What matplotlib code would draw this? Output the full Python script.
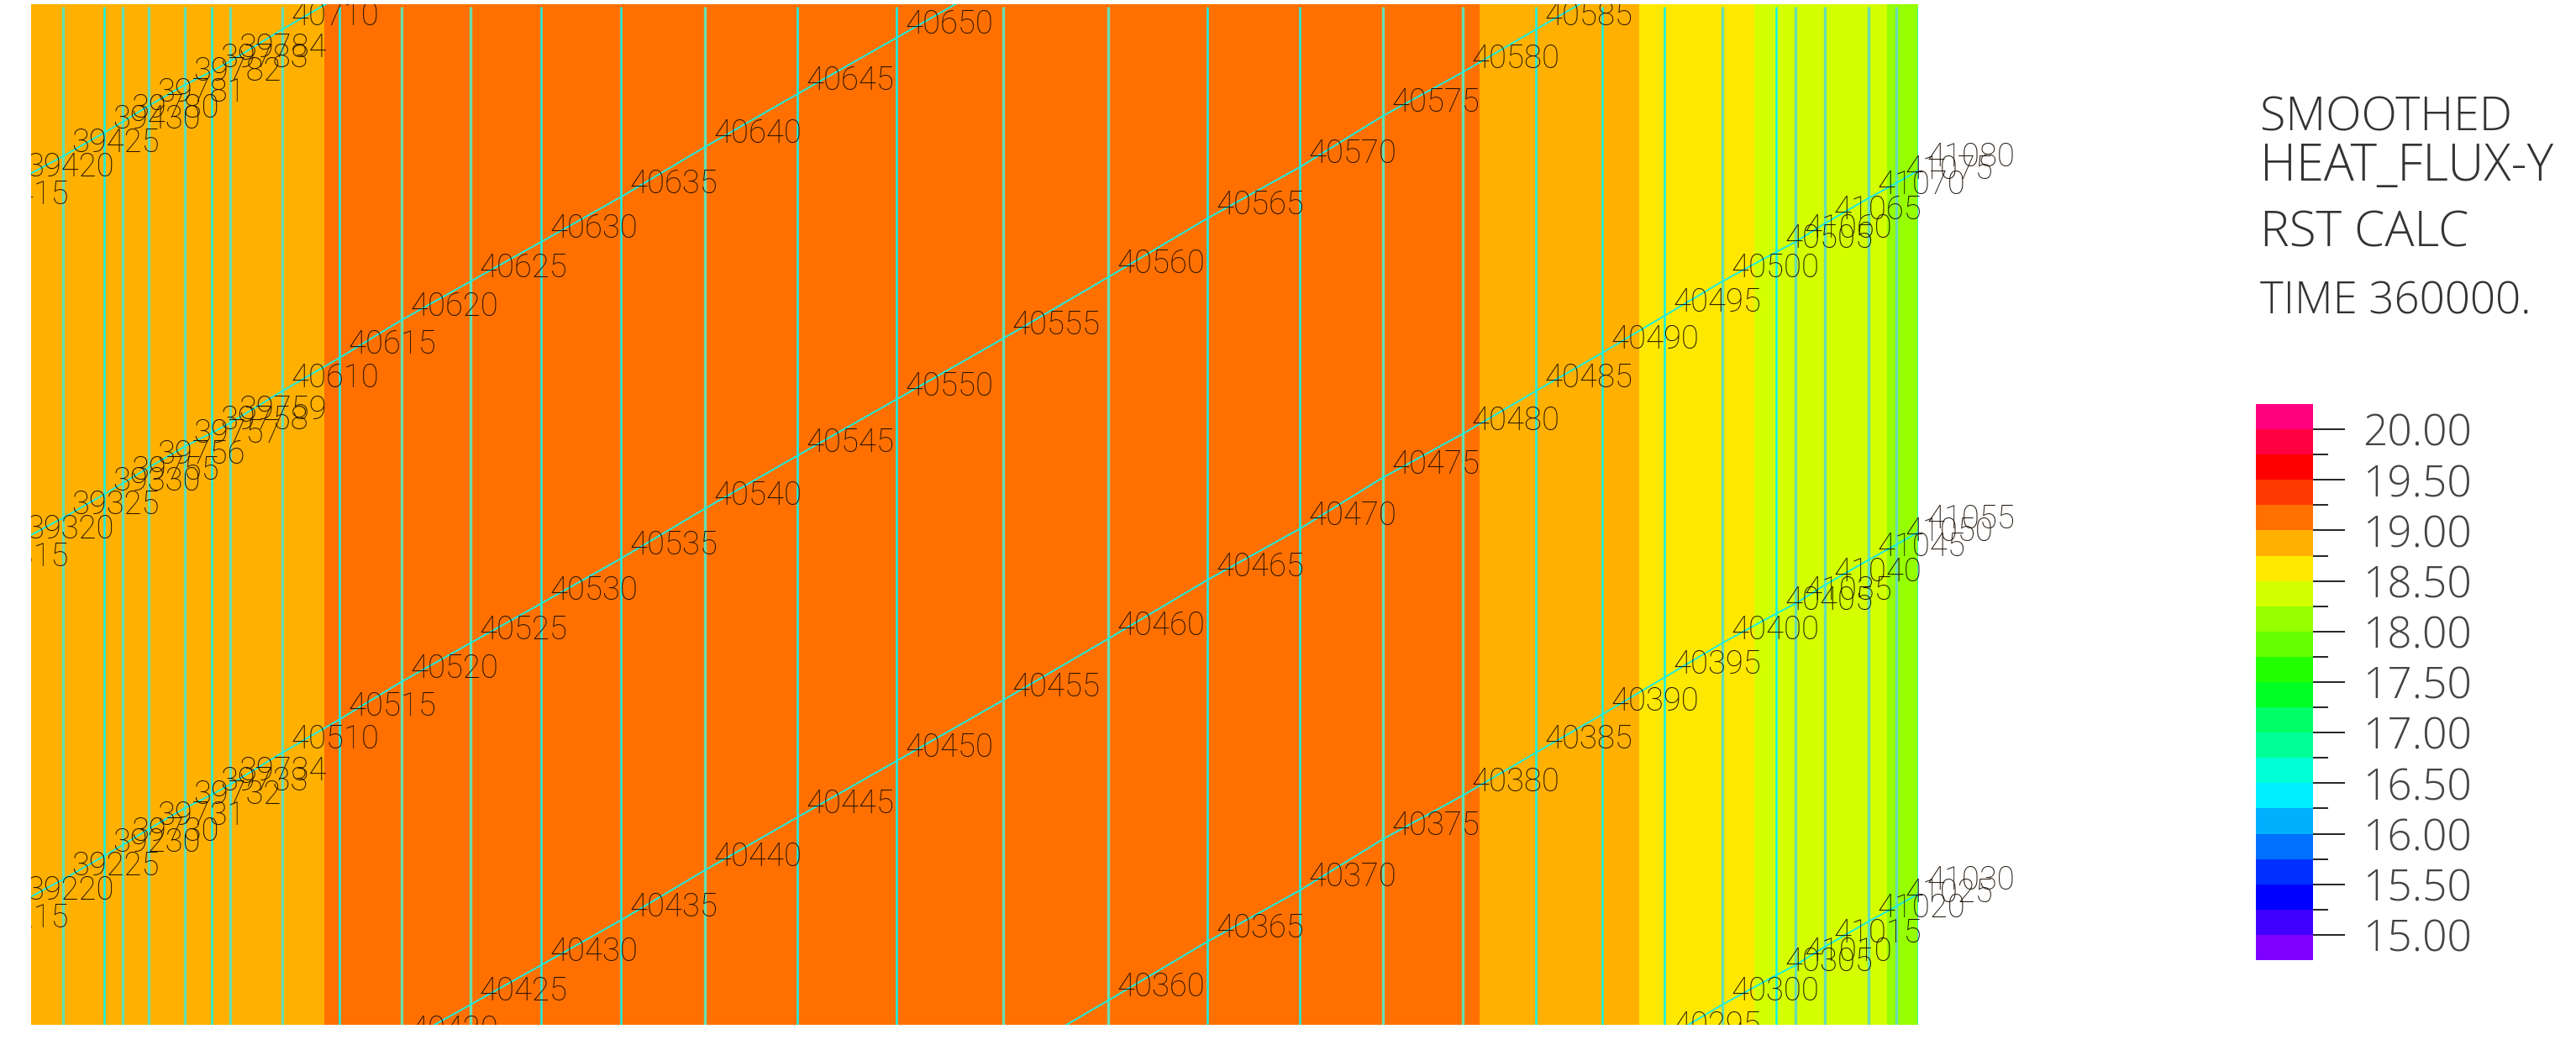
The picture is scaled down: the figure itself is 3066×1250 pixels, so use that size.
import matplotlib
matplotlib.use('Agg')
import numpy as np
import matplotlib.pyplot as plt
from matplotlib.colors import ListedColormap, BoundaryNorm
from matplotlib.patches import Rectangle
from matplotlib.ticker import FixedLocator

W, H = 3066, 1250
PLOT_L, PLOT_R, PLOT_T, PLOT_B = 37, 2283, 5, 1220

# contour bands, top of legend first
levels = [20.25, 20.0, 19.75, 19.5, 19.25, 19.0, 18.75, 18.5, 18.25, 18.0, 17.75, 17.5,
          17.25, 17.0, 16.75, 16.5, 16.25, 16.0, 15.75, 15.5, 15.25, 15.0, 14.75]
band_colors = ['#ff007f', '#ff0040', '#ff0000', '#ff3a00', '#ff7000', '#ffb000', '#ffe800',
               '#d4ff00', '#96ff00', '#66ff00', '#22ff00', '#00ff22', '#00ff66', '#00ff99',
               '#00ffd4', '#00eeff', '#00b0ff', '#0070ff', '#0030ff', '#0000ff', '#4000ff', '#8000ff']
legend_ticks = [20.0, 19.5, 19.0, 18.5, 18.0, 17.5, 17.0, 16.5, 16.0, 15.5, 15.0]
legend_minor = [19.75, 19.25, 18.75, 18.25, 17.75, 17.25, 16.75, 16.25, 15.75, 15.25]
legend_labels = ['20.00', '19.50', '19.00', '18.50', '18.00', '17.50', '17.00', '16.50', '16.00', '15.50', '15.00']

# strips of constant flux across the model
strip_edges = [37, 386, 1761, 1951, 2088, 2246, 2283]
strip_values = [18.9, 19.1, 18.9, 18.6, 18.4, 18.1]

# mesh columns: x of the vertical lines, label baseline height in the top row
col_x = [-33, 21, 75, 124, 146, 177, 220, 252, 274, 336, 404, 478, 560, 644, 739, 839, 949,
         1067, 1194, 1319, 1437, 1547, 1646, 1741, 1828, 1907, 1981, 2050, 2114, 2137, 2172,
         2224, 2257, 2283]
col_y = [245, 212, 183, 155, 142, 123, 98, 82, 70, 32, -7.5, -52.5, -98.5, -145.5, -199,
         -258.5, -321.5, -388.5, -461, -534, -604, -665, -726, -778, -829, -874.5, -918.5,
         -959.5, -994.5, -1006.5, -1028.5, -1058.5, -1076.5, -1091.5]
bright = [0, 0, 0, 1, 0, 0, 0, 1, 0, 0, 1, 0, 0, 1, 1, 0, 1, 1, 0, 0, 1, 1, 0, 0, 1, 1, 1, 0, 1, 0, 0, 0, 0, 1]

row_offset = [0, 430.5, 861, 1291.5, 1722, 2152.5]
row_start = [0, 0, 0, 9, 18, 24]
row_labels = [
    ['39415', '39420', '39425', '39430', '39780', '39781', '39782', '39783', '39784', '40710', '40715'],
    ['39315', '39320', '39325', '39330', '39755', '39756', '39757', '39758', '39759', '40610', '40615',
     '40620', '40625', '40630', '40635', '40640', '40645', '40650', '40655'],
    ['39215', '39220', '39225', '39230', '39730', '39731', '39732', '39733', '39734', '40510', '40515',
     '40520', '40525', '40530', '40535', '40540', '40545', '40550', '40555', '40560', '40565', '40570',
     '40575', '40580', '40585', '40590'],
    ['40410', '40415', '40420', '40425', '40430', '40435', '40440', '40445', '40450', '40455', '40460',
     '40465', '40470', '40475', '40480', '40485', '40490', '40495', '40500', '40505', '41060', '41065',
     '41070', '41075', '41080'],
    ['40355', '40360', '40365', '40370', '40375', '40380', '40385', '40390', '40395', '40400', '40405',
     '41035', '41040', '41045', '41050', '41055'],
    ['40285', '40290', '40295', '40300', '40305', '41010', '41015', '41020', '41025', '41030'],
]

title_lines = ['SMOOTHED', 'HEAT_FLUX-Y', 'RST CALC', 'TIME 360000.']
title_y = [155, 215, 294, 373]
title_size = [40, 43, 42, 38]

cmap = ListedColormap(band_colors[::-1])
norm = BoundaryNorm(levels[::-1], cmap.N)

fig = plt.figure(figsize=(W / 100, H / 100), dpi=100, facecolor='white')
ax = fig.add_axes([PLOT_L / W, 1 - PLOT_B / H, (PLOT_R - PLOT_L) / W, (PLOT_B - PLOT_T) / H])
ax.set_xlim(PLOT_L, PLOT_R)
ax.set_ylim(PLOT_B, PLOT_T)
ax.axis('off')

ax.pcolormesh(strip_edges, [PLOT_T, PLOT_B], [strip_values], cmap=cmap, norm=norm, zorder=1)

# labels run past the right edge of the model but are cut at the other three
clip = Rectangle((PLOT_L, PLOT_T), W - PLOT_L, PLOT_B - PLOT_T, transform=ax.transData)

for x, b in zip(col_x[2:], bright[2:]):
    if b:
        ax.plot([x, x], [8, PLOT_B], color='#12f2ea', lw=1.8, zorder=2, solid_capstyle='butt')
    else:
        ax.plot([x, x], [8, PLOT_B], color='#68deb0', lw=2.4, zorder=2, solid_capstyle='butt')

for offs, start, labels in zip(row_offset, row_start, row_labels):
    xs = np.array(col_x[start:start + len(labels)], dtype=float)
    ys = np.array(col_y[start:start + len(labels)], dtype=float) + offs
    ax.plot(xs, ys + 3, color='#18eee0', lw=1.4, zorder=3, clip_on=True)
    for x, y, s in zip(xs, ys, labels):
        t = ax.text(x + 10, y - 2, s, family='Roboto', fontweight='light', fontsize=27.5,
                    color='#150a00', alpha=0.95, ha='left', va='baseline', zorder=4, clip_on=True)
        t.set_clip_path(clip)

for s, y, size in zip(title_lines, title_y, title_size):
    fig.text(2690 / W, 1 - y / H, s, family='Open Sans', fontweight='light', fontsize=size,
             color='#333333', ha='left', va='baseline')

# legend bar
cax = fig.add_axes([2685 / W, 1 - 1143 / H, 68 / W, 662 / H])
cax.pcolormesh([0, 1], levels[::-1], np.array([[(a + b) / 2] for a, b in zip(levels[::-1][:-1], levels[::-1][1:])]),
               cmap=cmap, norm=norm)
cax.set_ylim(14.75, 20.25)
cax.set_xticks([])
for sp in cax.spines.values():
    sp.set_visible(False)
cax.yaxis.tick_right()
cax.yaxis.set_major_locator(FixedLocator(legend_ticks))
cax.yaxis.set_minor_locator(FixedLocator(legend_minor))
cax.set_yticklabels(legend_labels, family='Open Sans', fontweight='light', fontsize=37, color='#444444', ha='right')
cax.tick_params(axis='y', which='major', length=27, width=1.4, color='#222222', pad=109)
cax.tick_params(axis='y', which='minor', length=13, width=1.4, color='#222222')

fig.savefig('out.png', dpi=100, facecolor='white')
